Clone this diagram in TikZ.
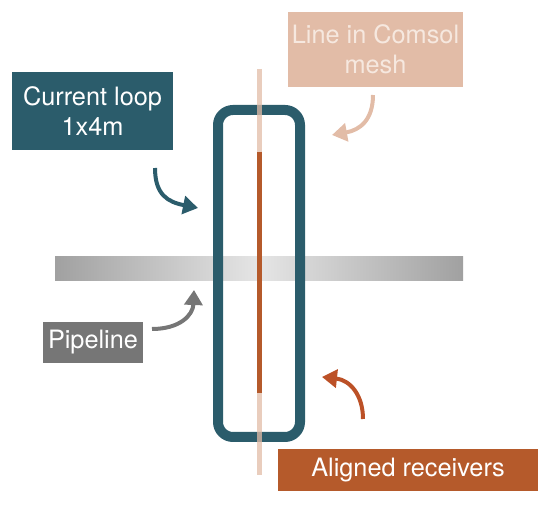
\documentclass[tikz,border=0pt]{standalone}
\usepackage{fontspec}
\setmainfont{TeX Gyre Heros}
\usetikzlibrary{arrows.meta}
\tikzset{>={Triangle[width=18pt,length=15pt]}}

\definecolor{loopcol}{HTML}{2B5C6B}
\definecolor{meshcol}{HTML}{E2BCA7}
\definecolor{meshtext}{HTML}{F6E8DF}
\definecolor{recvcol}{HTML}{B55A2B}
\definecolor{pipecol}{HTML}{767676}

\tikzset{
  lbl/.style={inner sep=0pt, align=center, text=white,
    font=\fontsize{25.3pt}{30pt}\selectfont},
  curvearrow/.style={line width=4pt, ->}
}

\begin{document}
\begin{tikzpicture}[x=1pt,y=-1pt]

  \useasboundingbox (0,0) rectangle (550,505);

  % pipeline
  \shade[left color=black!37, right color=black!37, middle color=black!10]
    (55,257) rectangle (463,281);

  % loop and lines
  \draw[loopcol, line width=10pt, rounded corners=15pt] (218,110) rectangle (300,437);
  \draw[meshcol, line width=5pt, opacity=0.75] (259.5,69) -- (259.5,475);
  \draw[recvcol, line width=5pt] (259.5,152) -- (259.5,393);

  % labels
  \node[lbl, fill=loopcol, minimum width=161pt, minimum height=78pt] (cur) at (92.5,111)
    {Current loop\\1x4m};
  \node[lbl, fill=meshcol, text=meshtext, minimum width=175pt, minimum height=75pt] (mesh) at (375.5,49.5)
    {Line in Comsol\\mesh};
  \node[lbl, fill=pipecol, minimum width=100pt, minimum height=41pt] (pipe) at (93,342.5) {Pipeline};
  \node[lbl, fill=recvcol, minimum width=260pt, minimum height=42pt] (recv) at (408,470) {Aligned receivers};

  % arrows
  \coordinate (c1) at (155,168);
  \coordinate (c2) at (198,208);
  \coordinate (m1) at (373,95);
  \coordinate (m2) at (332,135);
  \coordinate (p1) at (152,329);
  \coordinate (p2) at (194,290);
  \coordinate (r1) at (363,419);
  \coordinate (r2) at (322,377);

  \draw[curvearrow, loopcol] (c1) .. controls (155,195) and (168,202) .. (c2);
  \draw[curvearrow, meshcol] (m1) .. controls (373,120) and (360,130) .. (m2);
  \draw[curvearrow, pipecol] (p1) .. controls (180,329) and (193,315) .. (p2);
  \draw[curvearrow, recvcol!90!red] (r1) .. controls (363,395) and (350,380) .. (r2);

\end{tikzpicture}
\end{document}
